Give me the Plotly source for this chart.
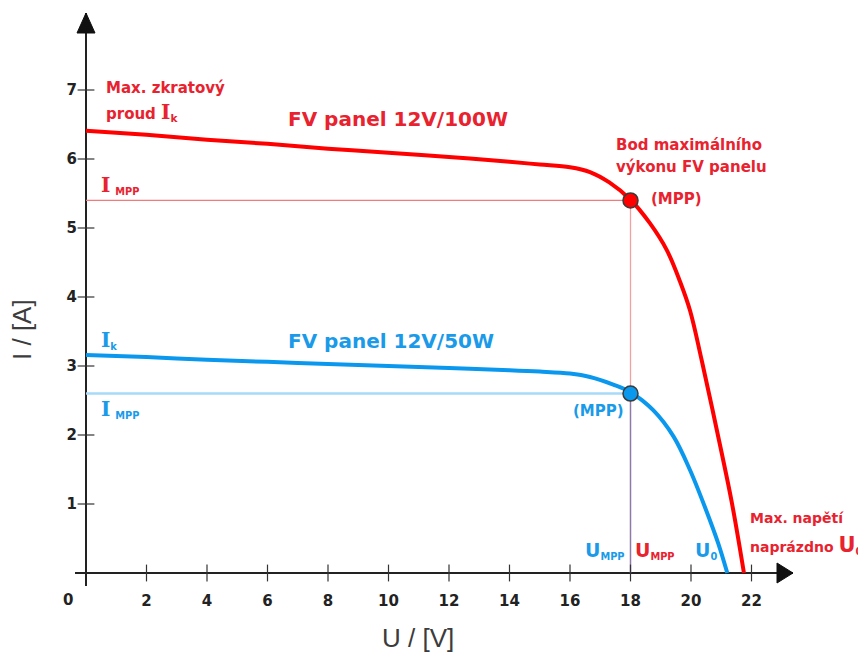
import plotly.graph_objects as go

# ---------------- data ----------------
u_100w = [0, 2, 4, 6, 8, 10, 12, 14, 15, 16, 16.66, 17.3, 18, 18.64, 19.2, 19.64, 19.97, 20.35, 20.85, 21.35, 21.75]
i_100w = [6.41, 6.35, 6.28, 6.22, 6.15, 6.09, 6.03, 5.96, 5.92, 5.88, 5.81, 5.66, 5.41, 5.07, 4.68, 4.22, 3.80, 3.09, 2.08, 1.02, 0.0]

u_50w = [0, 2, 4, 6, 8, 10, 12, 14, 15, 16, 16.66, 17.43, 18, 18.75, 19.42, 19.97, 20.5, 20.9, 21.2]
i_50w = [3.16, 3.13, 3.09, 3.06, 3.03, 3.00, 2.97, 2.94, 2.92, 2.89, 2.84, 2.73, 2.62, 2.36, 1.98, 1.49, 0.91, 0.43, 0.0]

u_mpp = 18.0
i_mpp_100w = 5.4
i_mpp_50w = 2.6

x_ticks = [2, 4, 6, 8, 10, 12, 14, 16, 18, 20, 22]
y_ticks = [1, 2, 3, 4, 5, 6, 7]

# ---------------- styling ----------------
RED = '#ff0000'
BLUE = '#0a98ee'
TXT_RED = '#e8222e'
TXT_BLUE = '#1a9ae8'
FONT = 'DejaVu Sans'

W, H = 866, 659
BODY = 8                         # default page margin of the html body
X0_PX, Y0_PX = 86.0, 573.0       # screen pixel of the origin
PX_V, PX_A = 30.25, 69.0         # pixels per volt / per ampere
PL, PR, PT, PB = 75, 793, 13, 586  # plot area on screen (left, right, top, bottom)

x_range = [(PL - X0_PX) / PX_V, (PR - X0_PX) / PX_V]
y_range = [(Y0_PX - PB) / PX_A, (Y0_PX - PT) / PX_A]


def paper_x(px):
    return (px - PL) / (PR - PL)


def paper_y(py):
    return (PB - py) / (PB - PT)


fig = go.Figure()

# guide lines of the MPP
fig.add_trace(go.Scatter(x=[0, u_mpp], y=[i_mpp_100w, i_mpp_100w], mode='lines',
                         line=dict(color='#f27a7a', width=1.3), hoverinfo='skip'))
fig.add_trace(go.Scatter(x=[0, u_mpp], y=[i_mpp_50w, i_mpp_50w], mode='lines',
                         line=dict(color='#a6daf8', width=2.5), hoverinfo='skip'))
fig.add_trace(go.Scatter(x=[u_mpp, u_mpp], y=[i_mpp_50w, i_mpp_100w], mode='lines',
                         line=dict(color='#f5a0a0', width=1.3), hoverinfo='skip'))
fig.add_trace(go.Scatter(x=[u_mpp, u_mpp], y=[0, i_mpp_50w], mode='lines',
                         line=dict(color='#8c7aaa', width=1.5), hoverinfo='skip'))

# I-V curves
fig.add_trace(go.Scatter(x=u_100w, y=i_100w, mode='lines',
                         line=dict(color=RED, width=4, shape='spline', smoothing=1.0), hoverinfo='skip'))
fig.add_trace(go.Scatter(x=u_50w, y=i_50w, mode='lines',
                         line=dict(color=BLUE, width=4, shape='spline', smoothing=1.0), hoverinfo='skip'))

# MPP markers
fig.add_trace(go.Scatter(x=[u_mpp], y=[i_mpp_100w], mode='markers',
                         marker=dict(color=RED, size=15, line=dict(color='#3a3a3a', width=1.5)), hoverinfo='skip'))
fig.add_trace(go.Scatter(x=[u_mpp], y=[i_mpp_50w], mode='markers',
                         marker=dict(color=BLUE, size=15, line=dict(color='#3a3a3a', width=1.5)), hoverinfo='skip'))

# tick marks crossing the axes
fig.add_trace(go.Scatter(x=x_ticks, y=[0] * len(x_ticks), mode='markers',
                         marker=dict(symbol='line-ns-open', size=12, color='#333', line=dict(color='#333', width=1.2)),
                         hoverinfo='skip'))
fig.add_trace(go.Scatter(x=[0] * len(y_ticks), y=y_ticks, mode='markers',
                         marker=dict(symbol='line-ew-open', size=12, color='#333', line=dict(color='#333', width=1.2)),
                         hoverinfo='skip'))

# arrow heads
fig.add_shape(type='path', xref='x', yref='y', xsizemode='pixel', ysizemode='pixel',
              xanchor=x_range[1], yanchor=0, path='M 0 0 L -16 10 L -16 -10 Z',
              fillcolor='#111', line=dict(color='#111', width=1))
fig.add_shape(type='path', xref='x', yref='y', xsizemode='pixel', ysizemode='pixel',
              xanchor=0, yanchor=y_range[1], path='M 0 0 L -9 -20 L 9 -20 Z',
              fillcolor='#111', line=dict(color='#111', width=1))


def note(text, px, py, color, size=15, xanchor='left', bold=True, family=FONT, angle=0):
    fig.add_annotation(x=paper_x(px), y=paper_y(py), xref='paper', yref='paper', text=text, showarrow=False,
                       xanchor=xanchor, yanchor='middle', textangle=angle,
                       font=dict(family=family, size=size, color=color, weight='bold' if bold else 'normal'))


BIG_I = '<span style="font-family:DejaVu Serif;font-size:20px">I</span>'
BIG_U = '<span style="font-size:19px">U</span>'

note('Max. zkratový', 104, 88, TXT_RED)
note('proud ' + BIG_I + '<sub>k</sub>', 104, 112, TXT_RED)
note('FV panel 12V/100W', 286, 119, TXT_RED, size=20)
note(BIG_I + ' <sub>MPP</sub>', 99, 185, TXT_RED, size=14)
note('Bod maximálního', 614, 145, TXT_RED)
note('výkonu FV panelu', 614, 167, TXT_RED)
note('(MPP)', 649, 199, TXT_RED)

note(BIG_I + '<sub>k</sub>', 99, 340, TXT_BLUE, size=14)
note('FV panel 12V/50W', 286, 341, TXT_BLUE, size=20)
note(BIG_I + ' <sub>MPP</sub>', 99, 409, TXT_BLUE, size=14)
note('(MPP)', 626, 411, TXT_BLUE, xanchor='right')

note(BIG_U + '<sub>MPP</sub>', 627, 550, TXT_BLUE, size=14, xanchor='right')
note(BIG_U + '<sub>MPP</sub>', 633, 550, TXT_RED, size=14)
note(BIG_U + '<sub>0</sub>', 693, 550, TXT_BLUE, size=14)

note('Max. napětí', 748, 518, TXT_RED, size=14)
note('naprázdno <span style="font-size:21px">U</span><sub>0</sub>', 748, 545, TXT_RED, size=14)

# origin label and axis titles
note('0', 68, 600, '#222', size=15, xanchor='center')
note('U / [V]', 418, 638, '#3c3c3c', size=26, xanchor='center', bold=False, family='Liberation Sans')
note('I / [A]', 22, 330, '#3c3c3c', size=26, xanchor='center', bold=False, family='Liberation Sans', angle=-90)

tick_font = dict(family=FONT, size=15, color='#222', weight='bold')
fig.update_xaxes(range=x_range, showgrid=False, zeroline=True, zerolinecolor='#222', zerolinewidth=2,
                 showline=False, tickmode='array', tickvals=x_ticks, ticktext=[str(v) for v in x_ticks],
                 ticks='', tickfont=tick_font, ticklabelstandoff=4, automargin=False, fixedrange=True)
fig.update_yaxes(range=y_range, showgrid=False, zeroline=True, zerolinecolor='#222', zerolinewidth=2,
                 showline=False, tickmode='array', tickvals=y_ticks, ticktext=[str(v) for v in y_ticks],
                 ticks='', tickfont=tick_font, ticklabelstandoff=-3, automargin=False, fixedrange=True)

# margins compensate for the html body offset so the plot lands where the reference has it
fig.update_layout(width=W, height=H,
                  margin=dict(l=PL - BODY, r=W - (PR - BODY), t=PT - BODY, b=H - (PB - BODY), pad=0),
                  plot_bgcolor='white', paper_bgcolor='white', showlegend=False)

fig.write_html('out.html', config={'displayModeBar': False})
